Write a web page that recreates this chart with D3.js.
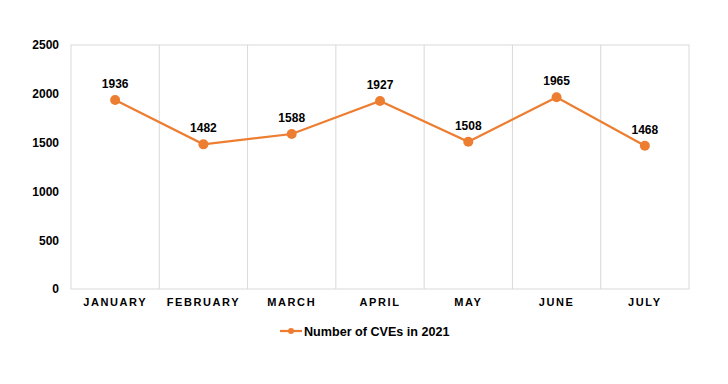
<!DOCTYPE html>
<html><head><meta charset="utf-8">
<script src="https://cdn.jsdelivr.net/npm/d3@7"></script>
<style>body{margin:0;background:#fff;}svg{display:block;font-family:"Liberation Sans",Arial,sans-serif;}</style>
</head><body>
<svg id="c" width="728" height="384"></svg>
<script>
const months = ["JANUARY","FEBRUARY","MARCH","APRIL","MAY","JUNE","JULY"];
const cves = [1936,1482,1588,1927,1508,1965,1468];
const yTicks = [0,500,1000,1500,2000,2500];
const seriesName = "Number of CVEs in 2021";
const color = "#ED7D31";

const svg = d3.select("#c");
const L=71, R=689, T=45, B=289;
const x = d3.scaleBand().domain(months).range([L,R]);
const y = d3.scaleLinear().domain([0,2500]).range([B,T]);

// plot box
svg.append("rect").attr("x",L).attr("y",T).attr("width",R-L).attr("height",B-T)
  .attr("fill","none").attr("stroke","#d9d9d9").attr("stroke-width",1);
// vertical gridlines
svg.append("g").selectAll("line").data(months.slice(1)).join("line")
  .attr("x1",d=>x(d)).attr("x2",d=>x(d)).attr("y1",T).attr("y2",B)
  .attr("stroke","#d9d9d9").attr("stroke-width",1);

// y axis
const ya = svg.append("g").attr("transform",`translate(${L},0)`)
  .call(d3.axisLeft(y).tickValues(yTicks).tickSize(0).tickPadding(12).tickFormat(d3.format("d")));
ya.select(".domain").remove();
ya.selectAll("text").attr("font-size",12).attr("font-weight","bold").attr("fill","#000")
  .attr("font-family","Liberation Sans, Arial, sans-serif");

// x axis
const xa = svg.append("g").attr("transform",`translate(0,${B})`)
  .call(d3.axisBottom(x).tickSize(0).tickPadding(9));
xa.select(".domain").remove();
xa.selectAll("text").attr("font-size",11).attr("font-weight","bold").attr("fill","#000")
  .attr("letter-spacing","1.6px").attr("font-family","Liberation Sans, Arial, sans-serif");

// line
const cx = (d,i)=>x(months[i])+x.bandwidth()/2;
svg.append("path").datum(cves)
  .attr("d", d3.line().x(cx).y(d=>y(d)))
  .attr("fill","none").attr("stroke",color).attr("stroke-width",2.25);
svg.append("g").selectAll("circle").data(cves).join("circle")
  .attr("cx",cx).attr("cy",d=>y(d)).attr("r",5).attr("fill",color);
svg.append("g").selectAll("text").data(cves).join("text")
  .attr("x",cx).attr("y",d=>y(d)-12).attr("text-anchor","middle")
  .attr("font-size",12).attr("font-weight","bold").attr("fill","#000").text(d=>d);

// legend
const lg = svg.append("g").attr("transform","translate(280,331)");
lg.append("line").attr("x1",0).attr("x2",22).attr("y1",0).attr("y2",0).attr("stroke",color).attr("stroke-width",2.25);
lg.append("circle").attr("cx",11).attr("cy",0).attr("r",3).attr("fill",color);
lg.append("text").attr("x",24).attr("y",4.5).attr("font-size",12.6).attr("font-weight","bold").attr("fill","#000").text(seriesName);
</script>
</body></html>
